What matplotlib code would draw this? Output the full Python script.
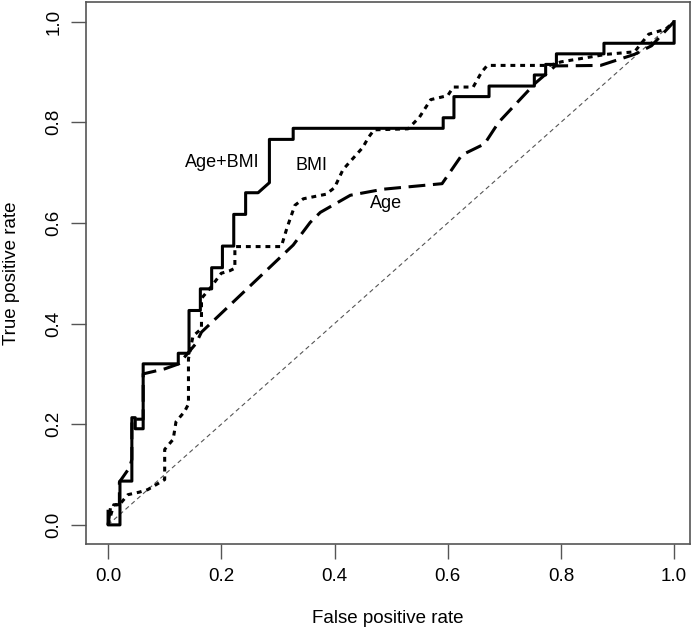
import matplotlib
matplotlib.use("Agg")
import matplotlib.pyplot as plt

# ROC curves
combo_fpr = [0, 0, 0.021, 0.021, 0.042, 0.042, 0.048, 0.048, 0.062, 0.062,
             0.124, 0.124, 0.143, 0.143, 0.163, 0.163, 0.183, 0.183, 0.202, 0.202,
             0.222, 0.222, 0.243, 0.243, 0.265, 0.285, 0.285, 0.327, 0.327, 0.592,
             0.592, 0.611, 0.611, 0.673, 0.673, 0.753, 0.753, 0.773, 0.773, 0.792,
             0.792, 0.876, 0.876, 1.0, 1.0]
combo_tpr = [0.027, 0, 0, 0.087, 0.087, 0.213, 0.213, 0.191, 0.191, 0.32,
             0.32, 0.341, 0.341, 0.426, 0.426, 0.469, 0.469, 0.511, 0.511, 0.554,
             0.554, 0.617, 0.617, 0.66, 0.66, 0.68, 0.766, 0.766, 0.788, 0.788,
             0.809, 0.809, 0.851, 0.851, 0.872, 0.872, 0.894, 0.894, 0.915, 0.915,
             0.936, 0.936, 0.957, 0.957, 1.0]

age_fpr = [0, 0.005, 0.02, 0.02, 0.038, 0.042, 0.042, 0.062, 0.062, 0.1,
           0.125, 0.14, 0.155, 0.165, 0.327, 0.357, 0.375, 0.428, 0.486, 0.59,
           0.625, 0.665, 0.69, 0.755, 0.79, 0.87, 0.93, 0.96, 1.0]
age_tpr = [0, 0.04, 0.04, 0.085, 0.114, 0.13, 0.21, 0.21, 0.30, 0.31,
           0.32, 0.34, 0.36, 0.383, 0.556, 0.601, 0.621, 0.655, 0.667, 0.678,
           0.735, 0.757, 0.8, 0.878, 0.912, 0.913, 0.935, 0.952, 1.0]

bmi_fpr = [0, 0.01, 0.02, 0.035, 0.055, 0.07, 0.1, 0.1, 0.115, 0.12,
           0.135, 0.142, 0.142, 0.15, 0.165, 0.165, 0.18, 0.2, 0.215, 0.224,
           0.224, 0.306, 0.316, 0.33, 0.345, 0.385, 0.4, 0.415, 0.45, 0.46,
           0.47, 0.53, 0.55, 0.57, 0.6, 0.61, 0.645, 0.66, 0.67, 0.78,
           0.8, 0.88, 0.93, 0.955, 0.985, 1.0]
bmi_tpr = [0, 0.04, 0.04, 0.06, 0.065, 0.07, 0.09, 0.15, 0.17, 0.205,
           0.225, 0.24, 0.33, 0.375, 0.39, 0.45, 0.47, 0.5, 0.505, 0.51,
           0.553, 0.553, 0.59, 0.635, 0.648, 0.657, 0.67, 0.706, 0.75, 0.77,
           0.785, 0.787, 0.81, 0.845, 0.853, 0.87, 0.87, 0.9, 0.913, 0.913,
           0.92, 0.935, 0.94, 0.975, 0.985, 1.0]

chance = [0, 1]
ticks = [0.0, 0.2, 0.4, 0.6, 0.8, 1.0]
tick_labels = ["0.0", "0.2", "0.4", "0.6", "0.8", "1.0"]

plt.rcParams["font.family"] = ["Liberation Sans", "DejaVu Sans"]

fig = plt.figure(figsize=(6.98, 6.34), dpi=100)
ax = fig.add_axes([86 / 698, 90 / 634, 604 / 698, 542 / 634])

ax.plot(chance, chance, color="#555555", lw=0.8, linestyle=(0, (4, 3)))
ax.plot(age_fpr, age_tpr, color="black", lw=2.2, linestyle=(0, (5.5, 2.5)))
ax.plot(bmi_fpr, bmi_tpr, color="black", lw=2.2, linestyle=(0, (1.6, 1.6)))
ax.plot(combo_fpr, combo_tpr, color="black", lw=2.2)

ax.text(0.201, 0.72, "Age+BMI", fontsize=13, ha="center", va="center")
ax.text(0.36, 0.714, "BMI", fontsize=13, ha="center", va="center")
ax.text(0.491, 0.639, "Age", fontsize=13, ha="center", va="center")

ax.set_xlim(-0.039, 1.028)
ax.set_ylim(-0.038, 1.039)
ax.set_xticks(ticks)
ax.set_xticklabels(tick_labels)
ax.set_yticks(ticks)
ax.set_yticklabels(tick_labels, rotation=90, va="center")
ax.tick_params(axis="both", direction="out", length=11, width=1,
               color="#555555", labelsize=13.5, pad=6)

for spine in ax.spines.values():
    spine.set_color("#555555")
    spine.set_linewidth(1.2)

ax.set_xlabel("False positive rate", fontsize=13.5, labelpad=18)
ax.set_ylabel("True positive rate", fontsize=13.5, labelpad=18)

fig.savefig("out.png", dpi=100)
